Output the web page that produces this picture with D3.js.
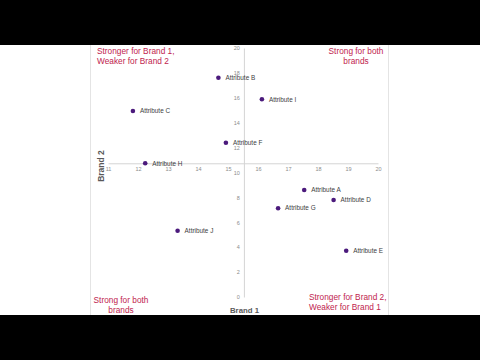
<!DOCTYPE html>
<html>
<head>
<meta charset="utf-8">
<script src="https://cdn.jsdelivr.net/npm/d3@7"></script>
<style>
  html, body { margin: 0; padding: 0; background: #000; }
  svg { display: block; }
</style>
</head>
<body>
<svg id="chart" width="480" height="360"></svg>
<script>
// ---- data ----
const attributes = ["Attribute A","Attribute B","Attribute C","Attribute D","Attribute E",
                    "Attribute F","Attribute G","Attribute H","Attribute I","Attribute J"];
const brand1 = [17.54, 14.68, 11.83, 18.52, 18.94, 14.93, 16.67, 12.24, 16.13, 13.32];
const brand2 = [8.59, 17.61, 14.94, 7.79, 3.71, 12.39, 7.13, 10.74, 15.88, 5.32];
const xTicks = [11, 12, 13, 14, 15, 16, 17, 18, 19, 20];
const yTicks = [0, 2, 4, 6, 8, 10, 12, 14, 16, 18, 20];
const xCross = 15.53;   // brand1 value where vertical axis sits
const yCross = 10.74;   // brand2 value where horizontal axis sits
const quadrantTL = ["Stronger for Brand 1,", "Weaker for Brand 2"];
const quadrantTR = ["Strong for both", "brands"];
const quadrantBL = ["Strong for both", "brands"];
const quadrantBR = ["Stronger for Brand 2,", "Weaker for Brand 1"];
const xTitle = "Brand 1";
const yTitle = "Brand 2";

// ---- drawing ----
const svg = d3.select("#chart");

// white slide area with letterbox
svg.append("rect").attr("x", 0).attr("y", 45).attr("width", 480).attr("height", 270).attr("fill", "#fff");
svg.append("line").attr("x1", 90.5).attr("x2", 90.5).attr("y1", 45).attr("y2", 315).attr("stroke", "#e4e4e4");
svg.append("line").attr("x1", 388.5).attr("x2", 388.5).attr("y1", 45).attr("y2", 315).attr("stroke", "#e4e4e4");

const x = d3.scaleLinear().domain([11, 20]).range([108, 378]);
const y = d3.scaleLinear().domain([0, 20]).range([297, 48]);

const axisColor = "#d4d4d4";
const tickColor = "#8c8c8c";

// horizontal axis
const gx = svg.append("g")
  .attr("transform", `translate(0,${y(yCross)})`)
  .call(d3.axisBottom(x).tickValues(xTicks).tickFormat(d3.format("d")).tickSize(0).tickPadding(4));
gx.select(".domain").attr("stroke", axisColor);
gx.selectAll("text").attr("fill", tickColor).attr("font-size", 5.5).attr("font-family", "Liberation Sans, Arial, sans-serif");

// vertical axis
const gy = svg.append("g")
  .attr("transform", `translate(${x(xCross)},0)`)
  .call(d3.axisLeft(y).tickValues(yTicks).tickFormat(d3.format("d")).tickSize(0).tickPadding(4));
gy.select(".domain").attr("stroke", axisColor);
gy.selectAll("text").attr("fill", tickColor).attr("font-size", 5.5).attr("font-family", "Liberation Sans, Arial, sans-serif");

// points
const pts = attributes.map((a, i) => ({ name: a, b1: brand1[i], b2: brand2[i] }));
const g = svg.append("g");
g.selectAll("circle").data(pts).join("circle")
  .attr("cx", d => x(d.b1)).attr("cy", d => y(d.b2)).attr("r", 2.3)
  .attr("fill", "#4b1a7c");
g.selectAll("text").data(pts).join("text")
  .attr("x", d => x(d.b1) + 7).attr("y", d => y(d.b2))
  .attr("dy", "0.35em")
  .attr("font-size", 6.4).attr("fill", "#404040")
  .attr("font-family", "Liberation Sans, Arial, sans-serif")
  .text(d => d.name);

// axis titles
svg.append("text").attr("x", 244.5).attr("y", 310).attr("dy", "0.35em")
  .attr("text-anchor", "middle").attr("font-weight", "bold").attr("font-size", 7.8)
  .attr("fill", "#595959").attr("font-family", "Liberation Sans, Arial, sans-serif")
  .text(xTitle);
svg.append("text").attr("transform", "translate(101,166) rotate(-90)").attr("dy", "0.35em")
  .attr("text-anchor", "middle").attr("font-weight", "bold").attr("font-size", 8.5)
  .attr("fill", "#595959").attr("font-family", "Liberation Sans, Arial, sans-serif")
  .text(yTitle);

// quadrant labels
const qColor = "#c0234e";
function quad(lines, xPos, yPos, anchor) {
  const t = svg.append("text").attr("font-size", 8.3).attr("fill", qColor)
    .attr("font-family", "Liberation Sans, Arial, sans-serif").attr("text-anchor", anchor);
  lines.forEach((l, i) => {
    t.append("tspan").attr("x", xPos).attr("y", yPos + i * 10).attr("dy", "0.35em").text(l);
  });
}
quad(quadrantTL, 97, 50.7, "start");
quad(quadrantTR, 356, 51, "middle");
quad(quadrantBL, 121, 300.5, "middle");
quad(quadrantBR, 309, 297.5, "start");
</script>
</body>
</html>
